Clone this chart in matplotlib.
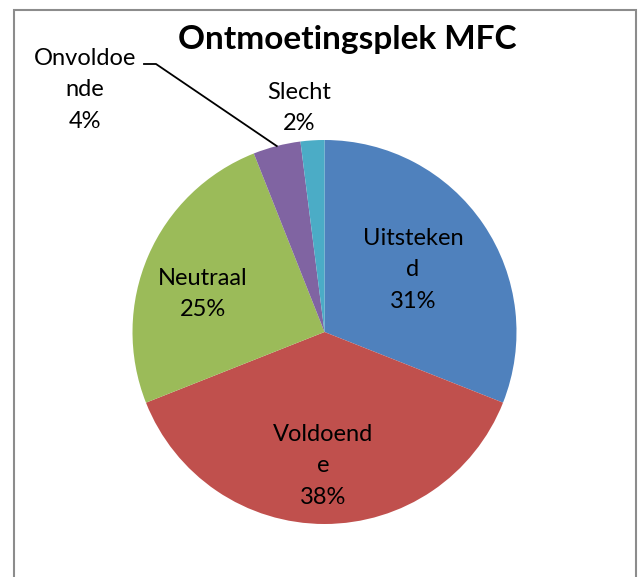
import numpy as np
import matplotlib
matplotlib.use("Agg")
import matplotlib.pyplot as plt
from matplotlib.patches import Rectangle

plt.rcParams['font.family'] = ['Lato', 'DejaVu Sans']

categories = ["Uitstekend", "Voldoende", "Neutraal", "Onvoldoende", "Slecht"]
values = [31, 38, 25, 4, 2]
label_texts = ["Uitsteken\nd\n31%", "Voldoend\ne\n38%", "Neutraal\n25%", "Onvoldoe\nnde\n4%", "Slecht\n2%"]
colors = ["#4F81BD", "#C0504D", "#9BBB59", "#8064A2", "#4BACC6"]

W, H = 638, 577
# label centres in pixel coords (from top-left)
label_pos = [(413, 270), (323, 466), (203, 294), (85, 90), (299, 108)]

fig = plt.figure(figsize=(W / 100, H / 100), dpi=100)
ax = fig.add_axes([0, 0, 1, 1])

cx, cy, r = 324.5, H - 332, 192
wedges, _ = ax.pie(values, colors=colors, startangle=90, counterclock=False,
                   center=(cx, cy), radius=r, frame=True,
                   wedgeprops=dict(linewidth=0))
ax.set_xlim(0, W)
ax.set_ylim(0, H)
ax.set_aspect("equal")
ax.axis("off")

for txt, (px, py) in zip(label_texts, label_pos):
    ax.text(px, H - py, txt, ha="center", va="center", fontsize=17,
            linespacing=1.62, color="black")

# leader line for Onvoldoende
w = wedges[3]
mid = np.deg2rad((w.theta1 + w.theta2) / 2)
ex, ey = cx + r * np.cos(mid), cy + r * np.sin(mid)
ax.plot([144, 156, ex], [H - 64, H - 64, ey], color="black", lw=1.3)

ax.text(347, H - 40, "Ontmoetingsplek MFC", ha="center", va="center",
        fontsize=24, fontweight="bold")

ax.add_patch(Rectangle((14, -20), 622, H - 10 + 20, fill=False,
                       edgecolor="#8c8c8c", lw=1.5))

fig.savefig("out.png", dpi=100)
